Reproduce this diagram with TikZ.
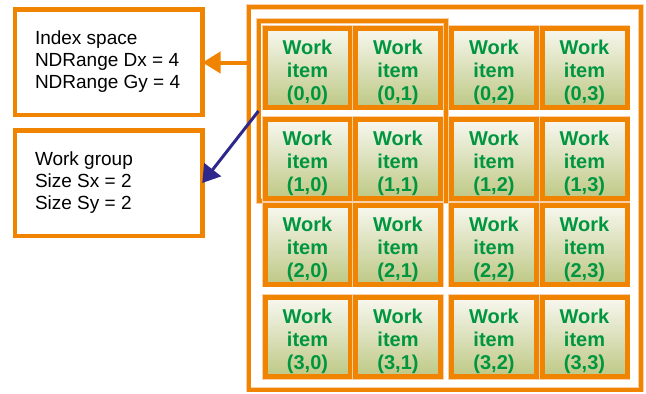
\documentclass[tikz,border=0pt]{standalone}
\usepackage{fontspec}
\setmainfont{Liberation Sans}
\usetikzlibrary{arrows.meta}
\definecolor{orng}{RGB}{240,131,0}
\definecolor{peach}{RGB}{250,208,168}
\definecolor{wgreen}{RGB}{0,150,64}
\definecolor{itop}{RGB}{248,248,240}
\definecolor{ibot}{RGB}{190,200,132}
\definecolor{navy}{RGB}{46,40,140}
\begin{document}
\begin{tikzpicture}[x=1pt,y=-1pt,
  itembox/.style={draw=orng, line width=5pt, top color=itop, bottom color=ibot,
    minimum width=85pt, minimum height=79pt, inner sep=0pt, outer sep=0pt,
    preaction={draw=peach, line width=6.5pt}},
  itemtext/.style={align=center, text=wgreen, inner sep=0pt,
    font=\fontsize{20}{23}\selectfont\bfseries, yshift=-4.5pt},
  framebox/.style={draw=orng, line width=4pt, inner sep=0pt, outer sep=0pt,
    preaction={draw=peach, line width=5.5pt}},
  infobox/.style={draw=orng, line width=4.5pt, inner sep=0pt, outer sep=0pt,
    minimum width=187.5pt, minimum height=105.5pt,
    font=\fontsize{19}{21.7}\selectfont},
  orarrow/.style={draw=orng, line width=4pt, -{Triangle[length=18pt,width=21pt]}},
  bluearrow/.style={draw=navy, line width=3pt, -{Triangle[length=17pt,width=21pt]}}
]
\useasboundingbox (0,0) rectangle (646,394);

% outer index space
\node[framebox, minimum width=392.5pt, minimum height=382.5pt] (ndr) at (444.75,198.25) {};
% highlighted work group
\node[framebox, minimum width=187.5pt, minimum height=180pt] (wg) at (352.25,111) {};

% work items
\foreach \r/\cy in {0/67.5,1/159,2/244.5,3/337}{
  \foreach \c/\cx in {0/307.5,1/398,2/494,3/584.5}{
    \node[itembox, label={[itemtext, name=t\r\c]center:Work\\item\\(\r,\c)}] (w\r\c) at (\cx,\cy) {};
  }
}

% info boxes
\node[infobox] (b1) at (108.75,62) {\makebox[147.5pt][l]{\begin{tabular}{@{}l@{}}Index space\\NDRange Dx = 4\\NDRange Gy = 4\end{tabular}}};
\node[infobox] (b2) at (108.5,183) {\makebox[147pt][l]{\begin{tabular}{@{}l@{}}Work group\\Size Sx = 2\\Size Sy = 2\end{tabular}}};

% arrows
\draw[orarrow] (ndr.west |- 0,62.5) -- (b1.east |- 0,62.5);
\draw[bluearrow] (wg.west) -- (b2.east);
\end{tikzpicture}
\end{document}
